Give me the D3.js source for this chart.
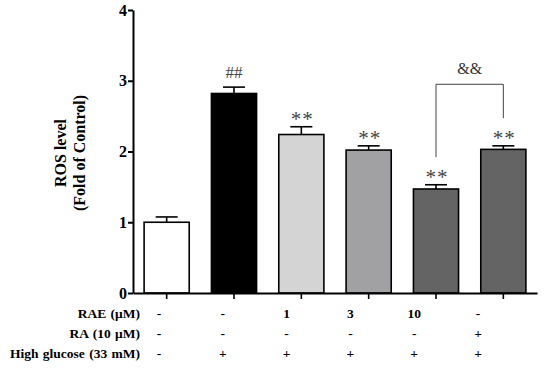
<!DOCTYPE html>
<html>
<head>
<meta charset="utf-8">
<script src="https://cdn.jsdelivr.net/npm/d3@7"></script>
<style>
  body { margin: 0; background: #fff; }
  svg text { font-family: "Liberation Serif", "Times New Roman", serif; }
</style>
</head>
<body>
<svg id="chart" width="550" height="368"></svg>
<script>
// data
const groups = ['ctrl', 'hg', 'rae1', 'rae3', 'rae10', 'ra'];
const means = [1.00, 2.82, 2.24, 2.02, 1.47, 2.03];
const errs = [0.075, 0.09, 0.11, 0.06, 0.06, 0.05];
const fills = ['#ffffff', '#000000', '#d4d4d4', '#a1a1a4', '#646464', '#646464'];
const marks = ['', '##', '**', '**', '**', '**'];
const yTicks = [0, 1, 2, 3, 4];

// treatment table under the axis
const rowLabels = ['RAE (\u03bcM)', 'RA (10 \u03bcM)', 'High glucose (33 mM)'];
const raeRow = ['-', '-', '1', '3', '10', '-'];
const raRow = ['-', '-', '-', '-', '-', '+'];
const hgRow = ['-', '+', '+', '+', '+', '+'];

const svg = d3.select('#chart');
const margin = {left: 133, right: 13, top: 10, bottom: 75};
const W = 550, H = 368;

const x = d3.scaleBand()
    .domain(groups)
    .range([margin.left, W - margin.right])
    .paddingInner(0.33)
    .paddingOuter(0.165);

const y = d3.scaleLinear()
    .domain([0, 4])
    .range([H - margin.bottom, margin.top]);

// bars
svg.selectAll('rect.bar')
    .data(groups)
    .join('rect')
    .attr('class', 'bar')
    .attr('x', d => x(d))
    .attr('width', x.bandwidth())
    .attr('y', (d, i) => y(means[i]))
    .attr('height', (d, i) => y(0) - y(means[i]))
    .attr('fill', (d, i) => fills[i])
    .attr('stroke', '#000')
    .attr('stroke-width', 1.6);

// error bars (upper only) + significance marks
const capW = 11;
groups.forEach((g, i) => {
    const cx = x(g) + x.bandwidth() / 2;
    const top = y(means[i] + errs[i]);
    svg.append('line')
        .attr('x1', cx).attr('x2', cx)
        .attr('y1', y(means[i])).attr('y2', top)
        .attr('stroke', '#000').attr('stroke-width', 1.6);
    svg.append('line')
        .attr('x1', cx - capW).attr('x2', cx + capW)
        .attr('y1', top).attr('y2', top)
        .attr('stroke', '#000').attr('stroke-width', 1.6);
    if (marks[i] === '**') {
        svg.append('text')
            .attr('x', cx + 1)
            .attr('y', top - 1)
            .attr('text-anchor', 'middle')
            .attr('font-size', 21)
            .attr('letter-spacing', 1)
            .attr('fill', '#444')
            .text(marks[i]);
    } else if (marks[i]) {
        svg.append('text')
            .attr('x', cx)
            .attr('y', top - 9)
            .attr('text-anchor', 'middle')
            .attr('font-size', 17)
            .attr('fill', '#444')
            .text(marks[i]);
    }
});

// bracket between 10 uM RAE and RA
const bx1 = x('rae10') + x.bandwidth() / 2;
const bx2 = x('ra') + x.bandwidth() / 2;
const bTop = y(2.95);
svg.append('path')
    .attr('d', `M${bx1},${y(1.92)}V${bTop}H${bx2}V${y(2.47)}`)
    .attr('fill', 'none')
    .attr('stroke', '#444')
    .attr('stroke-width', 1);
svg.append('text')
    .attr('x', (bx1 + bx2) / 2)
    .attr('y', bTop - 10)
    .attr('text-anchor', 'middle')
    .attr('font-size', 16)
    .attr('fill', '#333')
    .text('&&');

// axes
const yAxis = svg.append('g')
    .attr('transform', `translate(${margin.left},0)`)
    .call(d3.axisLeft(y).tickValues(yTicks).tickFormat(d3.format('d')).tickSize(5).tickSizeOuter(0));
yAxis.select('.domain').attr('stroke-width', 2);
yAxis.selectAll('.tick line').attr('stroke-width', 2);
yAxis.selectAll('.tick text')
    .attr('font-size', 16).attr('font-weight', 'bold')
    .attr('font-family', '"Liberation Serif", serif')
    .attr('x', -6);

const xAxis = svg.append('g')
    .attr('transform', `translate(0,${y(0)})`)
    .call(d3.axisBottom(x).tickFormat('').tickSize(6).tickSizeOuter(0));
xAxis.select('.domain').attr('stroke-width', 2);
xAxis.selectAll('.tick line').attr('stroke-width', 1.6);

// y label
const yl = svg.append('text')
    .attr('transform', 'translate(66,153) rotate(-90)')
    .attr('text-anchor', 'middle')
    .attr('font-size', 16)
    .attr('font-weight', 'bold');
yl.append('tspan').attr('x', 0).attr('dy', 0).text('ROS level');
yl.append('tspan').attr('x', 0).attr('dy', 19).text('(Fold of Control)');

// table
const col = d3.scaleLinear().domain([0, 5]).range([159, 478]);
const rows = [raeRow, raRow, hgRow];
const rowY = [318, 338, 358];
rows.forEach((r, ri) => {
    svg.append('text')
        .attr('x', 140).attr('y', rowY[ri])
        .attr('text-anchor', 'end')
        .attr('font-size', 13.5).attr('font-weight', 'bold')
        .attr('word-spacing', 1)
        .text(rowLabels[ri]);
    svg.selectAll(null)
        .data(r)
        .join('text')
        .attr('x', (d, i) => col(i))
        .attr('y', rowY[ri])
        .attr('text-anchor', 'middle')
        .attr('font-size', 13.5).attr('font-weight', 'bold')
        .text(d => d);
});
</script>
</body>
</html>
